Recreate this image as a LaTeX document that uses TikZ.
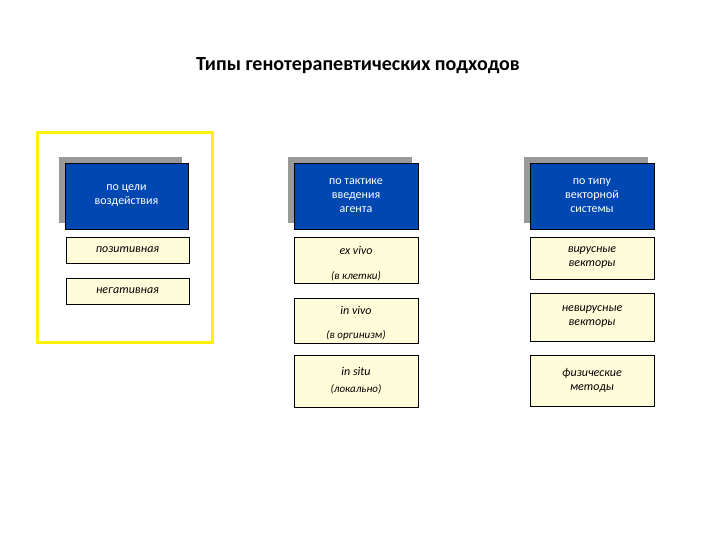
\documentclass[tikz,border=0pt]{standalone}
\usepackage{fontspec}
\setmainfont{Carlito}
\begin{document}
\begin{tikzpicture}[x=1pt,y=-1pt,
 blue/.style={draw=black,fill=blue!60!cyan!70!black,text=white,font=\fontsize{12}{14}\selectfont,align=center,inner sep=0pt},
 shadow/.style={fill=gray!80},
 yel/.style={draw=black,fill=yellow!15,font=\fontsize{12}{14}\itshape\selectfont,align=center,inner sep=0pt}]
\useasboundingbox (0,0) rectangle (720,540);
\node[font=\fontsize{20}{24}\bfseries\selectfont] (title) at (358,66) {Типы генотерапевтических подходов};
\draw[yellow,line width=3pt] (37,133) rectangle (212,342);
% shadows
\fill[shadow] (59,157) rectangle (182,223);
\fill[shadow] (288,157) rectangle (412,223);
\fill[shadow] (524,157) rectangle (648,223);
\node[blue,minimum width=123,minimum height=66] (b1) at (126.5,196) {по цели\\воздействия};
\node[blue,minimum width=124,minimum height=66] (b2) at (356,196) {по тактике\\введения\\агента};
\node[blue,minimum width=124,minimum height=66] (b3) at (592,196) {по типу\\векторной\\системы};
\node[yel,minimum width=123,minimum height=26] (p) at (127.5,250) {позитивная};
\node[yel,minimum width=123,minimum height=26] (n) at (127.5,291) {негативная};
\node[yel,minimum width=124,minimum height=46] (ex) at (356,260) {};
\node[font=\fontsize{12}{14}\itshape\selectfont] (ext) at (356,250) {ex vivo};
\node[font=\fontsize{11}{13}\itshape\selectfont] (exs) at (356,276) {(в клетки)};
\node[yel,minimum width=124,minimum height=45] (iv) at (356,320.5) {};
\node[font=\fontsize{12}{14}\itshape\selectfont] (ivt) at (356,310) {in vivo};
\node[font=\fontsize{11}{13}\itshape\selectfont] (ivs) at (356,335) {(в оргинизм)};
\node[yel,minimum width=124,minimum height=52,font=\fontsize{12}{17}\itshape\selectfont] (is) at (356,381) {in situ\\{\fontsize{11}{13}\selectfont(локально)}};
\node[yel,minimum width=124,minimum height=42] (v1) at (592,258) {вирусные\\векторы};
\node[yel,minimum width=124,minimum height=48] (v2) at (592,317) {невирусные\\векторы};
\node[yel,minimum width=124,minimum height=51] (v3) at (592,380.5) {физические\\методы};
\end{tikzpicture}
\end{document}
